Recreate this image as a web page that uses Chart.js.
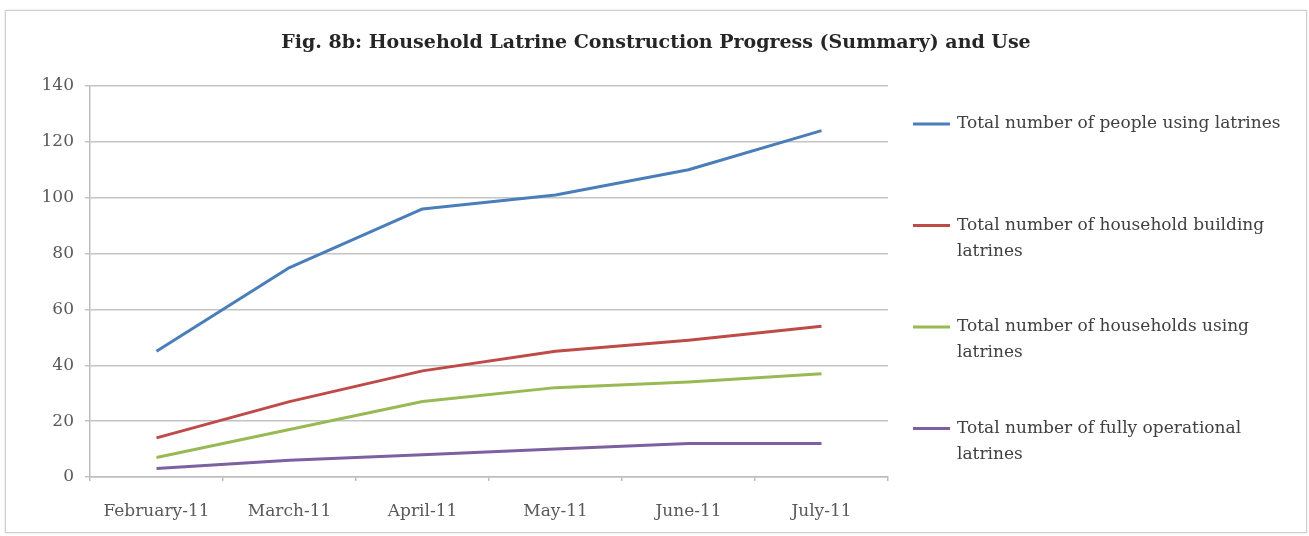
<!DOCTYPE html>
<html>
<head>
<meta charset="utf-8">
<script src="https://cdn.jsdelivr.net/npm/chart.js@4/dist/chart.umd.min.js"></script>
<style>
  body { margin: 0; background: #fff; }
  #box {
    position: absolute; left: 5px; top: 10px;
    width: 1300px; height: 521px;
    border: 1px solid #cfcfcf;
    box-shadow: 0 0 2px rgba(0,0,0,0.15);
    background: #fff;
  }
</style>
</head>
<body>
<div id="box"><canvas id="myChart" width="1300" height="521"></canvas></div>
<script>
// datos
const titulo = 'Fig. 8b: Household Latrine Construction Progress (Summary) and Use';
const meses = ['February-11', 'March-11', 'April-11', 'May-11', 'June-11', 'July-11'];
const personas_usando = [45, 75, 96, 101, 110, 124];
const hogares_construyendo = [14, 27, 38, 45, 49, 54];
const hogares_usando = [7, 17, 27, 32, 34, 37];
const letrinas_operativas = [3, 6, 8, 10, 12, 12];
const ticks_y = [0, 20, 40, 60, 80, 100, 120, 140];

const fuente = 'DejaVu Serif';

// titulo centrado en todo el recuadro + leyenda a la derecha en varias lineas
const leyendaLateral = {
    id: 'leyendaLateral',
    afterDraw(chart) {
        const ctx = chart.ctx;
        const area = chart.chartArea;
        ctx.save();

        ctx.font = 'bold 19px "' + fuente + '"';
        ctx.fillStyle = '#262626';
        ctx.textAlign = 'center';
        ctx.textBaseline = 'middle';
        ctx.fillText(titulo, chart.width / 2, 32);

        const x0 = area.right + 25;
        const xt = x0 + 44;
        const maxW = 340;
        ctx.font = '17px "' + fuente + '"';
        ctx.textAlign = 'left';
        chart.data.datasets.forEach(function (ds, i) {
            const y = area.top + 38 + i * 101.5;
            ctx.strokeStyle = ds.borderColor;
            ctx.lineWidth = 3;
            ctx.beginPath();
            ctx.moveTo(x0, y);
            ctx.lineTo(x0 + 37, y);
            ctx.stroke();

            // partir el texto
            const palabras = ds.label.split(' ');
            let lineas = [];
            let actual = '';
            palabras.forEach(function (p) {
                const prueba = actual ? actual + ' ' + p : p;
                if (ctx.measureText(prueba).width > maxW && actual) {
                    lineas.push(actual);
                    actual = p;
                } else {
                    actual = prueba;
                }
            });
            lineas.push(actual);
            ctx.fillStyle = '#404040';
            lineas.forEach(function (l, j) {
                ctx.fillText(l, xt, y + j * 26);
            });
        });
        ctx.restore();
    }
};

const ctx = document.getElementById('myChart').getContext('2d');
let myChart = new Chart(ctx, {
    type: 'line',
    plugins: [leyendaLateral],
    data: {
        labels: meses,
        datasets: [{
            label: 'Total number of people using latrines',
            data: personas_usando,
            borderColor: '#4A7EBB',
        }, {
            label: 'Total number of household building latrines',
            data: hogares_construyendo,
            borderColor: '#BE4B48',
        }, {
            label: 'Total number of households using latrines',
            data: hogares_usando,
            borderColor: '#98B954',
        }, {
            label: 'Total number of fully operational latrines',
            data: letrinas_operativas,
            borderColor: '#7D60A0',
        }]
    },
    options: {
        responsive: false,
        animation: false,
        layout: {
            padding: { left: 0, right: 418, top: 75, bottom: 0 }
        },
        elements: {
            line: { borderWidth: 3, tension: 0, borderCapStyle: 'butt', borderJoinStyle: 'round' },
            point: { radius: 0, hoverRadius: 0 }
        },
        plugins: {
            legend: { display: false },
            tooltip: { enabled: false },
            title: { display: false }
        },
        scales: {
            x: {
                offset: true,
                afterFit(scale) { scale.height = 55; },
                grid: {
                    offset: true,
                    drawOnChartArea: false,
                    tickLength: 4,
                    color: '#bdbdbd',
                    lineWidth: 1.5
                },
                border: { color: '#bdbdbd', width: 1.5 },
                ticks: {
                    color: '#595959',
                    padding: 20,
                    maxRotation: 0,
                    font: { family: fuente, size: 17 }
                }
            },
            y: {
                min: 0,
                max: 140,
                afterFit(scale) { scale.width = 84; },
                afterBuildTicks(scale) {
                    scale.ticks = ticks_y.map(function (v) { return { value: v }; });
                },
                grid: {
                    tickLength: 5,
                    color: '#c4c4c4',
                    lineWidth: 1.5
                },
                border: { color: '#bdbdbd', width: 1.5 },
                ticks: {
                    color: '#595959',
                    padding: 11,
                    font: { family: fuente, size: 17 }
                }
            }
        }
    }
});
</script>
</body>
</html>
